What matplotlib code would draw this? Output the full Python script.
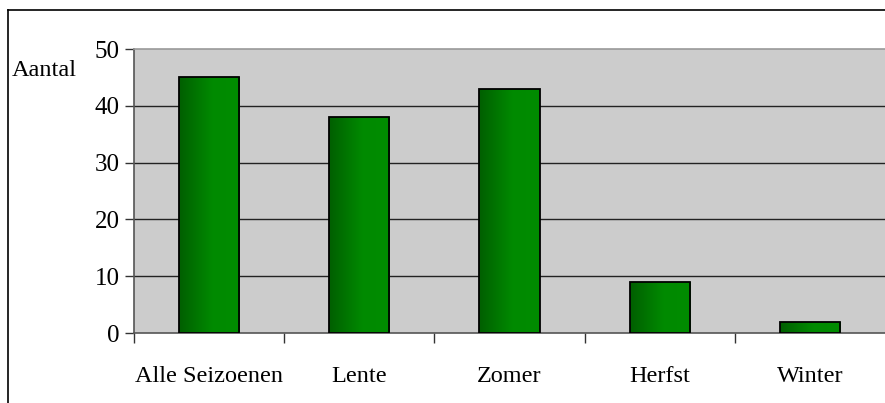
import numpy as np
import matplotlib
matplotlib.use("Agg")
import matplotlib.pyplot as plt
from matplotlib.colors import LinearSegmentedColormap
from matplotlib.lines import Line2D

categories = ["Alle Seizoenen", "Lente", "Zomer", "Herfst", "Winter"]
values = [45, 38, 43, 9, 2]
yticks = [0, 10, 20, 30, 40, 50]

plt.rcParams['font.family'] = ['Liberation Serif', 'DejaVu Serif']

fig = plt.figure(figsize=(8.85, 4.03), dpi=100)
ax = fig.add_axes([134 / 885, 70 / 403, 751 / 885, 284 / 403])
ax.set_facecolor("#cccccc")

# outer frame (only left and top edges are visible in the crop)
fig.add_artist(Line2D([8 / 885, 8 / 885], [0, 393 / 403], color="black", lw=1.2, transform=fig.transFigure))
fig.add_artist(Line2D([8 / 885, 1], [393 / 403, 393 / 403], color="black", lw=1.2, transform=fig.transFigure))

x = np.arange(len(categories))
for y in yticks[1:-1]:
    ax.axhline(y, color="#222222", lw=1.0, zorder=1)

green = LinearSegmentedColormap.from_list(
    "g", [(0, "#005f00"), (0.55, "#008a00"), (1, "#008c00")])
grad = np.linspace(0, 1, 100).reshape(1, -1)

bars = ax.bar(x, values, width=0.4, facecolor="none", edgecolor="black", lw=1.3, zorder=3)
for b in bars:
    im = ax.imshow(grad, cmap=green, aspect="auto", zorder=2,
                   extent=[b.get_x(), b.get_x() + b.get_width(), 0, b.get_height()])
    im.set_clip_path(b)

ax.set_xlim(-0.5, len(categories) - 0.5)
ax.set_ylim(0, 50)
ax.set_yticks(yticks)
ax.set_xticks(x)
ax.set_xticklabels(categories, fontsize=17.5)
ax.tick_params(axis="x", length=0, pad=24)
ax.set_xticks(np.arange(len(categories)) - 0.5, minor=True)
ax.tick_params(axis="x", which="minor", length=7, color="#333333", width=1)
ax.tick_params(axis="y", labelsize=18, length=6.5, color="#333333", width=1, pad=4)

ax.spines["top"].set_color("#999999")
ax.spines["right"].set_visible(False)
ax.spines["left"].set_color("#555555")
ax.spines["bottom"].set_color("#555555")
for s in ax.spines.values():
    s.set_linewidth(1.2)

fig.text(12 / 885, 1 - 71 / 403, "Aantal", fontsize=17.5, va="center", ha="left")

fig.savefig("out.png", dpi=100)
